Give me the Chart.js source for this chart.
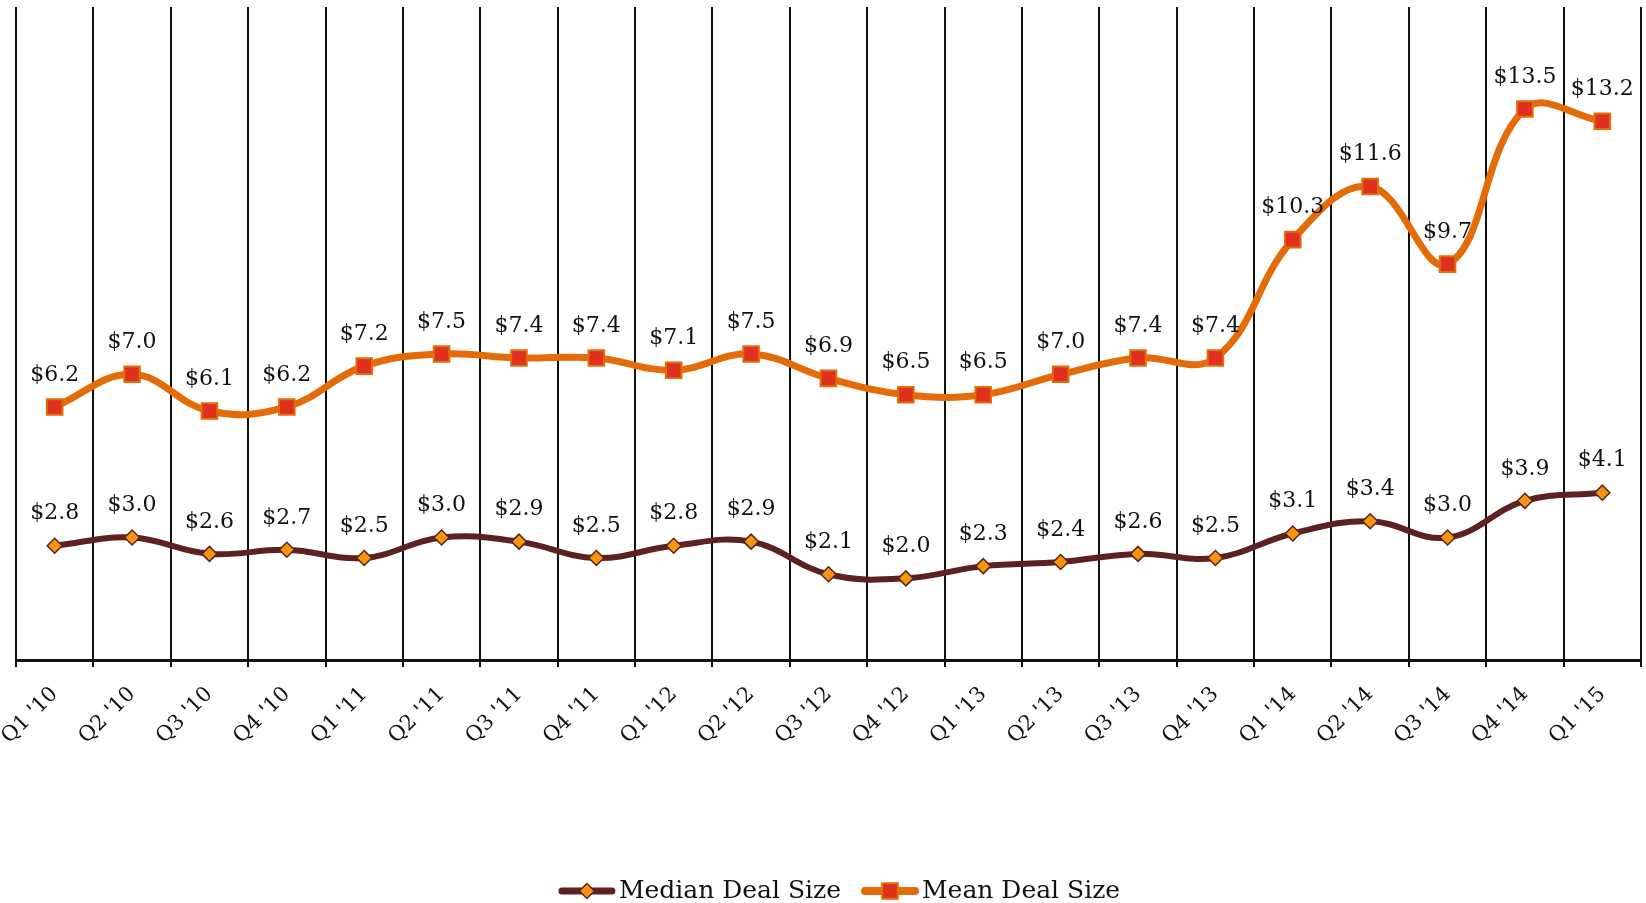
<!DOCTYPE html>
<html>
<head>
<meta charset="utf-8">
<script src="https://cdn.jsdelivr.net/npm/chart.js@4/dist/chart.umd.min.js"></script>
<style>
  html, body { margin: 0; padding: 0; background: #ffffff; }
  #wrap { position: relative; width: 1646px; height: 903px; }
</style>
</head>
<body>
<div id="wrap"><canvas id="chart" width="1646" height="903"></canvas></div>
<script>
const categories = ["Q1 '10", "Q2 '10", "Q3 '10", "Q4 '10", "Q1 '11", "Q2 '11", "Q3 '11", "Q4 '11",
  "Q1 '12", "Q2 '12", "Q3 '12", "Q4 '12", "Q1 '13", "Q2 '13", "Q3 '13", "Q4 '13",
  "Q1 '14", "Q2 '14", "Q3 '14", "Q4 '14", "Q1 '15"];
const medianDealSize = [2.8, 3.0, 2.6, 2.7, 2.5, 3.0, 2.9, 2.5, 2.8, 2.9, 2.1, 2.0, 2.3, 2.4, 2.6, 2.5, 3.1, 3.4, 3.0, 3.9, 4.1];
const meanDealSize = [6.2, 7.0, 6.1, 6.2, 7.2, 7.5, 7.4, 7.4, 7.1, 7.5, 6.9, 6.5, 6.5, 7.0, 7.4, 7.4, 10.3, 11.6, 9.7, 13.5, 13.2];
const seriesNames = ["Median Deal Size", "Mean Deal Size"];
const yMin = 0;
const yMax = 16;

const FONT = "'DejaVu Serif', Georgia, serif";
const MEDIAN_LINE = '#5E2121';
const MEDIAN_FILL = '#F7960E';
const MEAN_LINE = '#E36C09';
const MEAN_FILL = '#E0301E';

const dataLabelPlugin = {
  id: 'dataLabels',
  afterDatasetsDraw(chart) {
    const ctx = chart.ctx;
    ctx.save();
    ctx.font = '22px ' + FONT;
    ctx.fillStyle = '#111111';
    ctx.textAlign = 'center';
    ctx.textBaseline = 'middle';
    chart.data.datasets.forEach((ds, di) => {
      const meta = chart.getDatasetMeta(di);
      meta.data.forEach((pt, i) => {
        const v = ds.data[i];
        ctx.fillText('$' + v.toFixed(1), pt.x, pt.y - 32);
      });
    });
    ctx.restore();
  }
};

const legendPlugin = {
  id: 'customLegend',
  afterDraw(chart) {
    const ctx = chart.ctx;
    ctx.save();
    ctx.font = '25px ' + FONT;
    const lineLen = 58, gapText = 3, gapItem = 20;
    const widths = seriesNames.map(t => ctx.measureText(t).width);
    const total = lineLen * 2 + gapText * 2 + widths[0] + widths[1] + gapItem;
    let x = 839 - total / 2;
    const y = 891;
    chart.data.datasets.forEach((ds, i) => {
      ctx.strokeStyle = ds.borderColor;
      ctx.lineWidth = ds.borderWidth + 1;
      ctx.lineCap = 'round';
      ctx.beginPath();
      ctx.moveTo(x + 4, y);
      ctx.lineTo(x + lineLen - 4, y);
      ctx.stroke();
      ctx.fillStyle = ds.pointBackgroundColor;
      ctx.strokeStyle = ds.pointBorderColor;
      ctx.lineWidth = ds.pointBorderWidth;
      Chart.helpers.drawPoint(ctx, {
        pointStyle: ds.pointStyle,
        radius: ds.pointRadius,
        borderWidth: ds.pointBorderWidth,
        rotation: 0
      }, x + lineLen / 2, y);
      x += lineLen + gapText;
      ctx.fillStyle = '#111111';
      ctx.textAlign = 'left';
      ctx.textBaseline = 'middle';
      ctx.fillText(seriesNames[i], x, y);
      x += widths[i] + gapItem;
    });
    ctx.restore();
  }
};

new Chart(document.getElementById('chart'), {
  type: 'line',
  data: {
    labels: categories,
    datasets: [
      {
        label: seriesNames[0],
        data: medianDealSize,
        borderColor: MEDIAN_LINE,
        borderWidth: 6,
        tension: 0.4,
        pointStyle: 'rectRot',
        pointRadius: 7.5,
        pointHoverRadius: 7.5,
        pointBackgroundColor: MEDIAN_FILL,
        pointBorderColor: MEDIAN_LINE,
        pointBorderWidth: 1.5,
        fill: false
      },
      {
        label: seriesNames[1],
        data: meanDealSize,
        borderColor: MEAN_LINE,
        borderWidth: 7,
        tension: 0.4,
        pointStyle: 'rect',
        pointRadius: 11,
        pointHoverRadius: 11,
        pointBackgroundColor: MEAN_FILL,
        pointBorderColor: MEAN_LINE,
        pointBorderWidth: 2,
        fill: false
      }
    ]
  },
  options: {
    responsive: false,
    animation: false,
    events: [],
    layout: { autoPadding: false, padding: { left: 16, right: 5, top: 7, bottom: 0 } },
    plugins: {
      legend: { display: false },
      tooltip: { enabled: false },
      title: { display: false }
    },
    scales: {
      x: {
        type: 'category',
        offset: true,
        grid: {
          display: true,
          offset: true,
          color: '#111111',
          lineWidth: 2,
          drawOnChartArea: true,
          drawTicks: true,
          tickLength: 7
        },
        border: { display: true, color: '#111111', width: 3 },
        ticks: {
          autoSkip: false,
          minRotation: 45,
          maxRotation: 45,
          padding: 15,
          color: '#111111',
          font: { family: FONT, size: 21 }
        },
        afterFit(scale) {
          scale.height = 903 - 660;
          scale.paddingLeft = 0;
          scale.paddingRight = 0;
        }
      },
      y: {
        display: false,
        min: yMin,
        max: yMax,
        grid: { display: false }
      }
    }
  },
  plugins: [dataLabelPlugin, legendPlugin]
});
</script>
</body>
</html>
